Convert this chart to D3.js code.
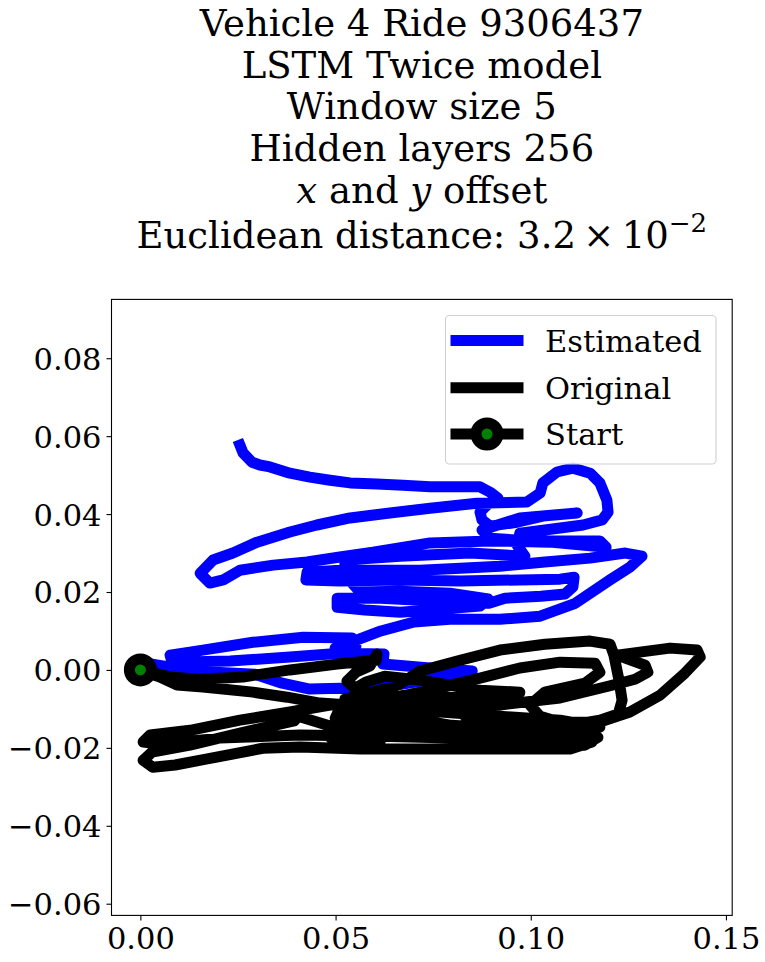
<!DOCTYPE html>
<html><head><meta charset="utf-8">
<script src="https://cdn.jsdelivr.net/npm/d3@7"></script>
<style>html,body{margin:0;padding:0;background:#fff;}svg{display:block;}</style>
</head><body>
<svg id="chart" width="765" height="962"></svg>
<script>
// ---- data ----
const titleLines = ["Vehicle 4 Ride 9306437", "LSTM Twice model", "Window size 5", "Hidden layers 256"];
const seriesNames = ["Estimated", "Original", "Start"];
const xTicks = [0, 0.05, 0.10, 0.15];
const yTicks = [-0.06, -0.04, -0.02, 0, 0.02, 0.04, 0.06, 0.08];
const startPoint = [0, 0];

const estX = [0.0000,0.0030,0.0089,0.0191,0.0294,0.0363,0.0434,0.0511,0.0575,0.0716,0.0850,0.0742,0.0621,0.0624,0.0511,0.0383,0.0230,0.0081,0.0076,0.0160,
  0.0288,0.0417,0.0542,0.0552,0.0499,0.0547,0.0616,0.0701,0.0793,0.0921,0.1024,0.1114,0.1203,0.1254,0.1285,0.1242,0.1152,0.1036,0.0921,0.0819,
  0.0716,0.0614,0.0511,0.0427,0.0424,0.0511,0.0665,0.0819,0.0972,0.1075,0.1111,0.1108,0.1088,0.1026,0.0934,0.0893,0.0845,0.0716,0.0614,0.0504,
  0.0504,0.0575,0.0665,0.0768,0.0870,0.0891,0.0793,0.0665,0.0563,0.0524,0.0524,0.0665,0.0845,0.0985,0.0965,0.0972,0.1036,0.1134,0.1183,0.1198,
  0.1195,0.1177,0.1152,0.1108,0.1067,0.1031,0.1024,0.0990,0.0862,0.0742,0.0639,0.0537,0.0452,0.0383,0.0299,0.0237,0.0186,0.0153,0.0178,0.0212,
  0.0255,0.0340,0.0427,0.0511,0.0596,0.0742,0.0896,0.1049,0.1193,0.1177,0.0972,0.0896,0.0875,0.0972,0.1119,0.1031,0.0965,0.0896,0.0875,0.0870,
  0.0888,0.0916,0.0896,0.0870,0.0742,0.0673,0.0606,0.0537,0.0486,0.0434,0.0383,0.0332,0.0306,0.0286,0.0263,0.0255];
const estY = [0.0000,0.0015,0.0005,-0.0006,-0.0011,-0.0034,-0.0049,-0.0047,-0.0052,-0.0029,-0.0003,0.0005,0.0015,0.0041,0.0043,0.0033,0.0023,0.0020,0.0038,0.0051,
  0.0071,0.0084,0.0082,0.0061,0.0056,0.0074,0.0100,0.0123,0.0130,0.0130,0.0138,0.0171,0.0231,0.0264,0.0292,0.0300,0.0287,0.0277,0.0266,0.0261,
  0.0256,0.0256,0.0256,0.0251,0.0231,0.0228,0.0231,0.0228,0.0231,0.0233,0.0238,0.0213,0.0195,0.0189,0.0184,0.0171,0.0174,0.0179,0.0184,0.0184,
  0.0161,0.0154,0.0148,0.0156,0.0164,0.0182,0.0197,0.0202,0.0200,0.0243,0.0282,0.0292,0.0300,0.0292,0.0320,0.0351,0.0359,0.0372,0.0385,0.0405,
  0.0436,0.0480,0.0505,0.0518,0.0508,0.0480,0.0454,0.0431,0.0428,0.0415,0.0403,0.0390,0.0372,0.0354,0.0328,0.0300,0.0282,0.0248,0.0223,0.0231,
  0.0256,0.0269,0.0277,0.0290,0.0302,0.0326,0.0331,0.0328,0.0315,0.0331,0.0333,0.0338,0.0359,0.0390,0.0403,0.0395,0.0379,0.0369,0.0385,0.0405,
  0.0423,0.0441,0.0456,0.0470,0.0470,0.0474,0.0477,0.0480,0.0487,0.0495,0.0505,0.0521,0.0526,0.0533,0.0557,0.0577];

const origX = [0.0000,0.0076,0.0153,0.0263,0.0383,0.0504,0.0604,0.0606,0.0588,0.0552,0.0529,0.0550,0.0578,0.0626,0.0716,0.0870,0.0972,0.0845,0.0665,0.0524,
  0.0614,0.0665,0.0716,0.0819,0.0921,0.1036,0.1152,0.1203,0.1213,0.1226,0.1234,0.1224,0.1177,0.1101,0.1024,0.0998,0.1036,0.1139,0.1177,0.1165,
  0.1075,0.0972,0.0870,0.0742,0.0614,0.0486,0.0383,0.0255,0.0127,0.0025,0.0007,0.0050,0.0204,0.0409,0.0614,0.0793,0.0972,0.1101,0.1165,0.1157,
  0.1101,0.0921,0.0716,0.0563,0.0409,0.0314,0.0168,0.0089,0.0032,0.0007,0.0030,0.0127,0.0255,0.0394,0.0404,0.0486,0.0665,0.0845,0.1024,0.1139,
  0.1172,0.1049,0.0870,0.0691,0.0537,0.0486,0.0614,0.0511,0.0665,0.0793,0.0972,0.1126,0.1177,0.1075,0.0921,0.0768,0.0614,0.0499,0.0511,0.0665,
  0.0806,0.0865,0.0850,0.0834,0.0870,0.0998,0.1177,0.1254,0.1331,0.1395,0.1434,0.1426,0.1357,0.1221,0.1293,0.1300,0.1267,0.1198,0.1075,0.0921,
  0.0768,0.0614,0.0460,0.0376,0.0288,0.0160,0.0094,0.0050,0.0014];
const origY = [0.0000,-0.0018,-0.0024,-0.0018,0.0000,0.0015,0.0025,0.0041,0.0010,-0.0006,-0.0029,-0.0047,-0.0031,-0.0016,-0.0026,-0.0052,-0.0057,-0.0070,-0.0067,-0.0075,
  -0.0052,-0.0036,-0.0003,0.0025,0.0051,0.0066,0.0074,0.0066,0.0038,-0.0026,-0.0078,-0.0113,-0.0129,-0.0142,-0.0119,-0.0090,-0.0057,-0.0034,-0.0006,0.0017,
  0.0020,0.0005,-0.0021,-0.0052,-0.0078,-0.0090,-0.0108,-0.0129,-0.0155,-0.0167,-0.0185,-0.0190,-0.0175,-0.0167,-0.0170,-0.0175,-0.0180,-0.0172,-0.0162,-0.0185,
  -0.0203,-0.0203,-0.0203,-0.0203,-0.0198,-0.0201,-0.0229,-0.0244,-0.0250,-0.0232,-0.0211,-0.0193,-0.0162,-0.0131,-0.0119,-0.0144,-0.0149,-0.0165,-0.0188,-0.0193,
  -0.0173,-0.0160,-0.0147,-0.0134,-0.0139,-0.0173,-0.0185,-0.0108,-0.0119,-0.0142,-0.0155,-0.0157,-0.0147,-0.0129,-0.0119,-0.0108,-0.0108,-0.0124,-0.0098,-0.0083,
  -0.0078,-0.0098,-0.0116,-0.0124,-0.0134,-0.0134,-0.0134,-0.0108,-0.0065,-0.0008,0.0033,0.0051,0.0056,0.0038,0.0012,-0.0006,-0.0024,-0.0042,-0.0072,-0.0090,
  -0.0098,-0.0095,-0.0085,-0.0070,-0.0057,-0.0044,-0.0039,-0.0018,-0.0006];

// ---- drawing ----
const svg = d3.select("#chart");
const FONT = "'DejaVu Serif', serif";
const pL = 111.5, pR = 732.2, pT = 299.4, pB = 915.4;
const x = d3.scaleLinear().domain([-0.0074, 0.1516]).range([pL, pR]);
const y = d3.scaleLinear().domain([-0.0630, 0.0951]).range([pB, pT]);

// title
const cx = (pL + pR) / 2;
const TS = "37px";
const title = svg.append("text").attr("text-anchor", "middle")
  .style("font-family", FONT).style("font-size", TS).attr("fill", "#000");
const baselines = [36, 77.7, 119.4, 161.1, 202.8, 248];
titleLines.forEach((t, i) => title.append("tspan").attr("x", cx).attr("y", baselines[i]).text(t));
const l5 = title.append("tspan").attr("x", cx).attr("y", baselines[4]);
l5.append("tspan").style("font-style", "italic").text("x");
l5.append("tspan").text(" and ");
l5.append("tspan").style("font-style", "italic").text("y");
l5.append("tspan").text(" offset");
const l6 = svg.append("text").attr("text-anchor", "middle")
  .style("font-family", FONT).style("font-size", TS).attr("x", cx).attr("y", baselines[5]);
l6.append("tspan").text("Euclidean distance: 3.2\u2009\u00d7\u200910");
l6.append("tspan").attr("dy", -16).style("font-size", "26px").text("\u22122");

// clip
svg.append("clipPath").attr("id", "clip").append("rect")
  .attr("x", pL).attr("y", pT).attr("width", pR - pL).attr("height", pB - pT);

const line = d3.line().x(d => x(d[0])).y(d => y(d[1]));
const est = estX.map((v, i) => [v, estY[i]]);
const orig = origX.map((v, i) => [v, origY[i]]);

const LW = 11;
const plot = svg.append("g").attr("clip-path", "url(#clip)");
plot.append("path").datum(est).attr("d", line).attr("fill", "none")
  .attr("stroke", "#0000ff").attr("stroke-width", LW).attr("stroke-linejoin", "round").attr("stroke-linecap", "square");
plot.append("path").datum(orig).attr("d", line).attr("fill", "none")
  .attr("stroke", "#000").attr("stroke-width", LW).attr("stroke-linejoin", "round").attr("stroke-linecap", "square");
plot.append("circle").attr("cx", x(startPoint[0])).attr("cy", y(startPoint[1])).attr("r", 11)
  .attr("fill", "#008000").attr("stroke", "#000").attr("stroke-width", 11);

// axes
const fmt = v => (v < 0 ? "\u2212" : "") + Math.abs(v).toFixed(2);
const gx = svg.append("g").attr("transform", `translate(0,${pB})`)
  .call(d3.axisBottom(x).tickValues(xTicks).tickFormat(fmt).tickSize(5).tickPadding(5));
const gy = svg.append("g").attr("transform", `translate(${pL},0)`)
  .call(d3.axisLeft(y).tickValues(yTicks).tickFormat(fmt).tickSize(5).tickPadding(5));
[gx, gy].forEach(g => {
  g.select(".domain").remove();
  g.selectAll("line").attr("stroke", "#000").attr("stroke-width", 1.1);
  g.selectAll("text").style("font-family", FONT).style("font-size", "30.5px").attr("fill", "#000");
});
gx.selectAll("text").attr("dy", "0.78em");
gy.selectAll("text").attr("dy", "0.36em");

// frame
svg.append("rect").attr("x", pL).attr("y", pT).attr("width", pR - pL).attr("height", pB - pT)
  .attr("fill", "none").attr("stroke", "#000").attr("stroke-width", 1.1);

// legend
const lg = svg.append("g");
lg.append("rect").attr("x", 445.5).attr("y", 315.5).attr("width", 270.5).attr("height", 148.5).attr("rx", 4)
  .attr("fill", "#fff").attr("fill-opacity", 0.8).attr("stroke", "#d0d0d0").attr("stroke-width", 1.1);
const rowsY = [340.6, 387.7, 434];
const colors = ["#0000ff", "#000", "#000"];
seriesNames.forEach((n, i) => {
  lg.append("line").attr("x1", 456).attr("x2", 518).attr("y1", rowsY[i]).attr("y2", rowsY[i])
    .attr("stroke", colors[i]).attr("stroke-width", LW).attr("stroke-linecap", "square");
  if (i === 2) {
    lg.append("circle").attr("cx", 487).attr("cy", rowsY[i]).attr("r", 11)
      .attr("fill", "#008000").attr("stroke", "#000").attr("stroke-width", 11);
  }
  lg.append("text").attr("x", 545).attr("y", rowsY[i]).attr("dy", "0.36em")
    .style("font-family", FONT).style("font-size", "30.5px").attr("fill", "#000").text(n);
});
</script>
</body></html>
